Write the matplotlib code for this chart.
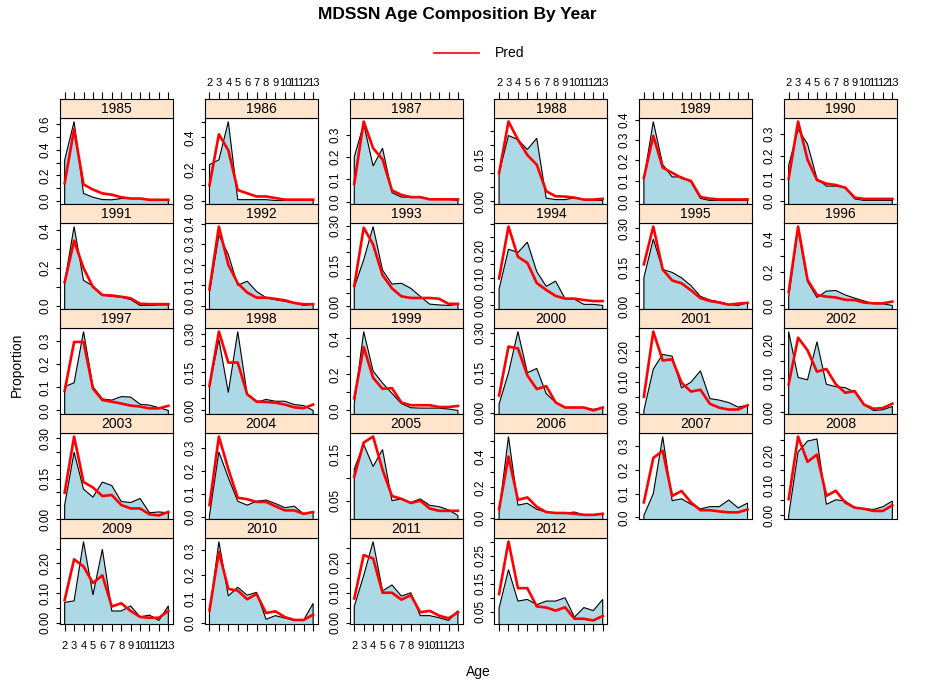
import matplotlib
matplotlib.use("Agg")
import matplotlib.pyplot as plt
from matplotlib.patches import Polygon
import numpy as np

plt.rcParams['font.family'] = ['Liberation Sans', 'DejaVu Sans']

# ---------------- data ----------------
ages = [2, 3, 4, 5, 6, 7, 8, 9, 10, 11, 12, 13]
age_labels = [str(a) for a in ages]
years = list(range(1985, 2013))

obs_1985 = [0.32, 0.62, 0.06, 0.03, 0.012, 0.01, 0.02, 0.02, 0.02, 0.01, 0.01, 0.005]
pred_1985 = [0.14, 0.56, 0.13, 0.09, 0.06, 0.05, 0.03, 0.02, 0.02, 0.01, 0.01, 0.01]
obs_1986 = [0.23, 0.26, 0.50, 0.01, 0.01, 0.01, 0.01, 0.005, 0.005, 0.005, 0.005, 0.005]
pred_1986 = [0.10, 0.42, 0.32, 0.07, 0.05, 0.03, 0.03, 0.02, 0.01, 0.01, 0.01, 0.01]
obs_1987 = [0.20, 0.35, 0.16, 0.24, 0.04, 0.02, 0.02, 0.02, 0.01, 0.01, 0.01, 0.005]
pred_1987 = [0.08, 0.36, 0.24, 0.19, 0.05, 0.03, 0.02, 0.02, 0.01, 0.01, 0.01, 0.01]
obs_1988 = [0.10, 0.235, 0.22, 0.185, 0.225, 0.01, 0.005, 0.005, 0.012, 0.005, 0.003, 0.002]
pred_1988 = [0.10, 0.285, 0.22, 0.165, 0.13, 0.035, 0.017, 0.016, 0.012, 0.005, 0.005, 0.008]
obs_1989 = [0.11, 0.39, 0.18, 0.12, 0.12, 0.095, 0.015, 0.005, 0.005, 0.005, 0.005, 0.005]
pred_1989 = [0.115, 0.32, 0.165, 0.14, 0.115, 0.10, 0.022, 0.014, 0.01, 0.01, 0.01, 0.01]
obs_1990 = [0.16, 0.32, 0.255, 0.10, 0.067, 0.067, 0.06, 0.01, 0.003, 0.003, 0.003, 0.003]
pred_1990 = [0.10, 0.355, 0.185, 0.094, 0.078, 0.072, 0.06, 0.016, 0.01, 0.01, 0.01, 0.01]
obs_1991 = [0.125, 0.42, 0.135, 0.105, 0.057, 0.05, 0.046, 0.033, 0.002, 0.002, 0.005, 0.005]
pred_1991 = [0.125, 0.345, 0.20, 0.10, 0.057, 0.055, 0.048, 0.04, 0.011, 0.009, 0.009, 0.009]
obs_1992 = [0.065, 0.345, 0.25, 0.10, 0.12, 0.07, 0.04, 0.03, 0.022, 0.014, 0.002, 0.008]
pred_1992 = [0.08, 0.386, 0.20, 0.11, 0.065, 0.04, 0.04, 0.034, 0.027, 0.014, 0.008, 0.008]
obs_1993 = [0.07, 0.173, 0.297, 0.134, 0.082, 0.085, 0.066, 0.036, 0.007, 0.004, 0.002, 0.006]
pred_1993 = [0.075, 0.293, 0.23, 0.115, 0.066, 0.036, 0.03, 0.03, 0.03, 0.027, 0.008, 0.008]
obs_1994 = [0.06, 0.206, 0.194, 0.232, 0.124, 0.07, 0.089, 0.025, 0.023, 0.004, 0.004, 0.0]
pred_1994 = [0.099, 0.289, 0.178, 0.156, 0.082, 0.057, 0.035, 0.025, 0.025, 0.02, 0.016, 0.016]
obs_1995 = [0.111, 0.259, 0.142, 0.131, 0.11, 0.08, 0.039, 0.025, 0.018, 0.008, 0.004, 0.015]
pred_1995 = [0.162, 0.307, 0.142, 0.10, 0.089, 0.062, 0.032, 0.021, 0.015, 0.007, 0.011, 0.014]
obs_1996 = [0.05, 0.46, 0.143, 0.048, 0.086, 0.09, 0.063, 0.044, 0.027, 0.01, 0.01, 0.0]
pred_1996 = [0.08, 0.474, 0.154, 0.063, 0.053, 0.048, 0.034, 0.032, 0.017, 0.013, 0.013, 0.023]
obs_1997 = [0.103, 0.12, 0.342, 0.103, 0.05, 0.045, 0.06, 0.058, 0.027, 0.023, 0.012, 0.0]
pred_1997 = [0.085, 0.297, 0.297, 0.095, 0.045, 0.038, 0.03, 0.021, 0.017, 0.009, 0.009, 0.02]
obs_1998 = [0.096, 0.277, 0.07, 0.308, 0.063, 0.032, 0.043, 0.036, 0.036, 0.023, 0.019, 0.0]
pred_1998 = [0.096, 0.308, 0.187, 0.187, 0.063, 0.035, 0.033, 0.03, 0.023, 0.012, 0.009, 0.023]
obs_1999 = [0.038, 0.438, 0.219, 0.152, 0.095, 0.038, 0.015, 0.013, 0.013, 0.013, 0.008, 0.0]
pred_1999 = [0.067, 0.352, 0.181, 0.12, 0.124, 0.044, 0.029, 0.029, 0.029, 0.019, 0.019, 0.025]
obs_2000 = [0.033, 0.15, 0.304, 0.15, 0.166, 0.072, 0.039, 0.02, 0.02, 0.02, 0.013, 0.02]
pred_2000 = [0.065, 0.248, 0.241, 0.14, 0.089, 0.10, 0.039, 0.02, 0.02, 0.02, 0.009, 0.02]
obs_2001 = [0.006, 0.142, 0.19, 0.184, 0.08, 0.099, 0.136, 0.045, 0.04, 0.032, 0.017, 0.023]
pred_2001 = [0.051, 0.265, 0.17, 0.174, 0.097, 0.068, 0.074, 0.028, 0.015, 0.009, 0.009, 0.023]
obs_2002 = [0.238, 0.103, 0.096, 0.208, 0.083, 0.076, 0.073, 0.06, 0.023, 0.006, 0.008, 0.018]
pred_2002 = [0.083, 0.22, 0.183, 0.12, 0.128, 0.083, 0.058, 0.063, 0.023, 0.011, 0.013, 0.026]
obs_2003 = [0.052, 0.248, 0.111, 0.081, 0.137, 0.124, 0.065, 0.061, 0.076, 0.023, 0.026, 0.023]
pred_2003 = [0.098, 0.306, 0.137, 0.117, 0.085, 0.089, 0.052, 0.039, 0.039, 0.017, 0.013, 0.026]
obs_2004 = [0.005, 0.282, 0.17, 0.067, 0.05, 0.067, 0.072, 0.057, 0.039, 0.045, 0.012, 0.02]
pred_2004 = [0.05, 0.349, 0.207, 0.082, 0.076, 0.064, 0.064, 0.045, 0.027, 0.027, 0.012, 0.02]
obs_2005 = [0.119, 0.172, 0.124, 0.161, 0.05, 0.054, 0.046, 0.054, 0.04, 0.037, 0.03, 0.018]
pred_2005 = [0.102, 0.176, 0.189, 0.117, 0.06, 0.054, 0.045, 0.05, 0.033, 0.028, 0.028, 0.028]
obs_2006 = [0.04, 0.53, 0.085, 0.097, 0.058, 0.04, 0.034, 0.034, 0.04, 0.022, 0.018, 0.029]
pred_2006 = [0.058, 0.40, 0.119, 0.135, 0.074, 0.04, 0.034, 0.034, 0.029, 0.022, 0.022, 0.029]
obs_2007 = [0.008, 0.10, 0.34, 0.07, 0.078, 0.055, 0.036, 0.045, 0.045, 0.073, 0.04, 0.06]
pred_2007 = [0.063, 0.25, 0.28, 0.09, 0.111, 0.063, 0.03, 0.03, 0.025, 0.021, 0.021, 0.033]
obs_2008 = [0.0, 0.211, 0.247, 0.254, 0.037, 0.052, 0.048, 0.026, 0.022, 0.02, 0.029, 0.048]
pred_2008 = [0.054, 0.262, 0.178, 0.202, 0.065, 0.082, 0.043, 0.026, 0.022, 0.015, 0.015, 0.034]
obs_2009 = [0.069, 0.074, 0.274, 0.094, 0.248, 0.04, 0.04, 0.057, 0.02, 0.026, 0.008, 0.057]
pred_2009 = [0.077, 0.214, 0.19, 0.134, 0.16, 0.055, 0.066, 0.04, 0.02, 0.017, 0.017, 0.04]
obs_2010 = [0.04, 0.337, 0.111, 0.147, 0.114, 0.126, 0.014, 0.029, 0.019, 0.009, 0.011, 0.08]
pred_2010 = [0.051, 0.294, 0.14, 0.133, 0.097, 0.119, 0.04, 0.047, 0.023, 0.011, 0.011, 0.033]
obs_2011 = [0.055, 0.157, 0.27, 0.106, 0.126, 0.089, 0.1, 0.024, 0.024, 0.017, 0.008, 0.04]
pred_2011 = [0.081, 0.225, 0.214, 0.1, 0.1, 0.077, 0.092, 0.035, 0.04, 0.024, 0.015, 0.035]
obs_2012 = [0.063, 0.20, 0.088, 0.094, 0.075, 0.088, 0.088, 0.10, 0.031, 0.065, 0.054, 0.094]
pred_2012 = [0.113, 0.30, 0.134, 0.134, 0.069, 0.065, 0.054, 0.066, 0.025, 0.025, 0.019, 0.035]

# y-axis tick step and the tick labels that are printed, per year
y_steps = [0.1, 0.1, 0.1, 0.05, 0.1, 0.1,
           0.1, 0.1, 0.05, 0.05, 0.05, 0.1,
           0.1, 0.05, 0.1, 0.05, 0.05, 0.05,
           0.05, 0.1, 0.05, 0.1, 0.1, 0.05,
           0.05, 0.1, 0.05, 0.05]
y_labels = [
    ["0.0", "0.2", "0.4", "0.6"], ["0.0", "0.2", "0.4"], ["0.0", "0.1", "0.2", "0.3"],
    ["0.00", "0.15"], ["0.0", "0.1", "0.2", "0.3", "0.4"], ["0.0", "0.1", "0.2", "0.3"],
    ["0.0", "0.2", "0.4"], ["0.0", "0.1", "0.2", "0.3", "0.4"], ["0.00", "0.15", "0.30"],
    ["0.00", "0.10", "0.20"], ["0.00", "0.15", "0.30"], ["0.0", "0.2", "0.4"],
    ["0.0", "0.1", "0.2", "0.3"], ["0.00", "0.15", "0.30"], ["0.0", "0.2", "0.4"],
    ["0.00", "0.15", "0.30"], ["0.00", "0.10", "0.20"], ["0.00", "0.10", "0.20"],
    ["0.00", "0.15", "0.30"], ["0.0", "0.1", "0.2", "0.3"], ["0.05", "0.15"],
    ["0.0", "0.2", "0.4"], ["0.0", "0.1", "0.2", "0.3"], ["0.00", "0.10", "0.20"],
    ["0.00", "0.10", "0.20"], ["0.0", "0.1", "0.2", "0.3"], ["0.00", "0.10", "0.20"],
    ["0.05", "0.15", "0.25"],
]

g = globals()
OBS = [g["obs_%d" % y] for y in years]
PRED = [g["pred_%d" % y] for y in years]

# ---------------- figure ----------------
W, H = 937, 683
fig = plt.figure(figsize=(W / 100, H / 100), dpi=100)
fig.patch.set_facecolor("white")


def fx(px):
    return px / W


def fy(py):
    return 1 - py / H


NCOL = 6
NROW = 5
PAD = 0.045
xlim = (ages[0] - PAD * (ages[-1] - ages[0]), ages[-1] + PAD * (ages[-1] - ages[0]))
FRAME_LW = 0.8
TICK_LEN = 3.0

for k, yr in enumerate(years):
    r, c = divmod(k, NCOL)
    left = 60 + 144.8 * c
    strip_top = 99 + 105 * r
    panel_top = strip_top + 19
    panel_bot = panel_top + 86
    pw = 113

    ax = fig.add_axes([fx(left), fy(panel_bot), pw / W, 86 / H])
    sax = fig.add_axes([fx(left), fy(panel_top), pw / W, 19 / H])

    obs = OBS[k]
    pred = PRED[k]
    lo = min(min(obs), min(pred))
    hi = max(max(obs), max(pred))
    d = hi - lo
    ylim = (lo - PAD * d, hi + PAD * d)

    poly = Polygon([(ages[0], -1.0)] + list(zip(ages, obs)) + [(ages[-1], -1.0)],
                   closed=True, facecolor="#ADD8E6", edgecolor="black", lw=0.8, zorder=2)
    ax.add_patch(poly)
    ax.plot(ages, pred, color="red", lw=1.9, zorder=3, solid_joinstyle="round")
    ax.set_xlim(xlim)
    ax.set_ylim(ylim)

    step = y_steps[k]
    fmt = "%.1f" if step >= 0.1 - 1e-9 else "%.2f"
    t0 = int(np.ceil(ylim[0] / step - 1e-9))
    t1 = int(np.floor(ylim[1] / step + 1e-9))
    ticks = [i * step for i in range(t0, t1 + 1)]
    labs = [(fmt % abs(t)) if (fmt % abs(t)) in y_labels[k] else "" for t in ticks]
    ax.set_yticks(ticks)
    ax.set_yticklabels(labs, rotation=90, va="center", ha="right", fontsize=8.5)
    ax.tick_params(axis="y", direction="out", length=TICK_LEN, width=0.8, pad=3, left=True, right=False)

    # bottom axis only on the last row of the layout
    if r == NROW - 1:
        ax.set_xticks(ages)
        if c % 2 == 0:
            ax.set_xticklabels(age_labels, fontsize=8)
        else:
            ax.set_xticklabels([""] * len(ages))
        ax.tick_params(axis="x", direction="out", length=5, width=0.8, pad=7, bottom=True, top=False)
    else:
        ax.set_xticks([])

    for sp in ax.spines.values():
        sp.set_linewidth(FRAME_LW)
        sp.set_color("black")

    # strip
    sax.set_facecolor("#FFE5CC")
    sax.set_xlim(xlim)
    sax.set_ylim(0, 1)
    sax.set_yticks([])
    sax.text(0.5, 0.45, str(yr), transform=sax.transAxes, ha="center", va="center", fontsize=10)
    if r == 0:
        sax.xaxis.set_ticks_position("top")
        sax.set_xticks(ages)
        if c % 2 == 1:
            sax.set_xticklabels(age_labels, fontsize=8)
        else:
            sax.set_xticklabels([""] * len(ages))
        sax.tick_params(axis="x", direction="out", length=5, width=0.8, pad=3, top=True, bottom=False)
    else:
        sax.set_xticks([])
    for sp in sax.spines.values():
        sp.set_linewidth(FRAME_LW)
        sp.set_color("black")

# title, legend, axis labels
fig.text(fx(457), fy(15), "MDSSN Age Composition By Year", ha="center", va="center",
         fontsize=12.5, fontweight="bold")
fig.add_artist(plt.Line2D([fx(434), fx(479)], [fy(53), fy(53)], color="red", lw=1.2))
fig.text(fx(495), fy(53), "Pred", ha="left", va="center", fontsize=10)
fig.text(fx(17), fy(365), "Proportion", rotation=90, ha="center", va="center", fontsize=10)
fig.text(fx(478), fy(672), "Age", ha="center", va="center", fontsize=10)

fig.savefig("out.png", dpi=100, facecolor="white")
